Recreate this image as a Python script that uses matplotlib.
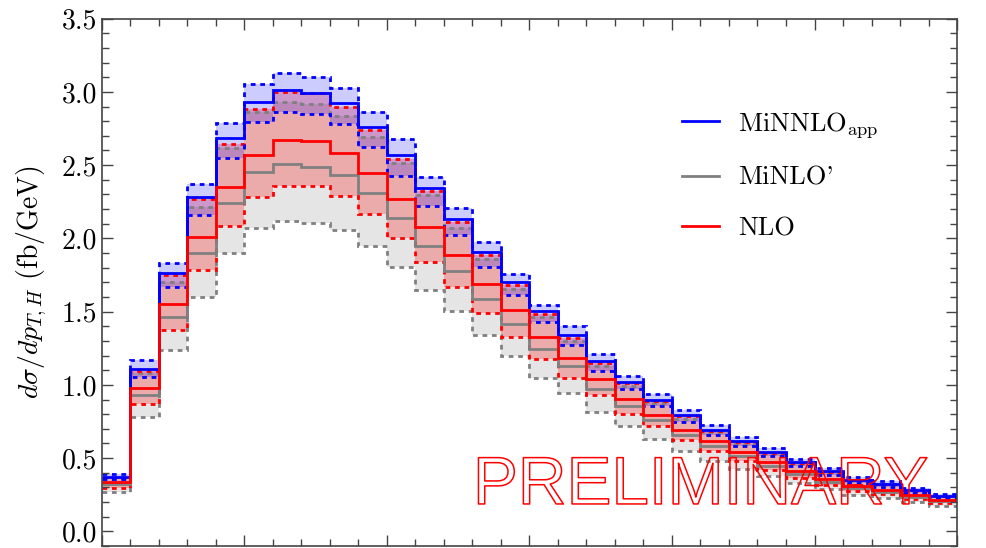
import numpy as np
import matplotlib
matplotlib.use("Agg")
import matplotlib.pyplot as plt
from matplotlib.ticker import MultipleLocator
import matplotlib.patheffects as pe

plt.rcParams['font.family'] = 'cmr10'
plt.rcParams['mathtext.fontset'] = 'cm'
plt.rcParams['axes.formatter.use_mathtext'] = True

# p_T,H bins (GeV)
edges = np.arange(0, 310, 10)

# MiNNLO_app: central value and scale band
minnlo_c = [0.371, 1.110, 1.763, 2.280, 2.683, 2.933, 3.013, 2.995, 2.922, 2.763,
            2.570, 2.342, 2.131, 1.906, 1.701, 1.501, 1.342, 1.160, 1.023, 0.898,
            0.791, 0.694, 0.614, 0.542, 0.473, 0.409, 0.353, 0.323, 0.280, 0.239]
minnlo_up = [0.392, 1.171, 1.830, 2.370, 2.786, 3.052, 3.131, 3.104, 3.029, 2.865,
             2.677, 2.417, 2.206, 1.978, 1.758, 1.546, 1.399, 1.210, 1.062, 0.939,
             0.830, 0.728, 0.644, 0.569, 0.496, 0.432, 0.368, 0.341, 0.296, 0.255]
minnlo_dn = [0.355, 1.057, 1.670, 2.160, 2.547, 2.793, 2.861, 2.849, 2.781, 2.626,
             2.426, 2.222, 2.024, 1.808, 1.615, 1.432, 1.274, 1.098, 0.971, 0.853,
             0.750, 0.660, 0.580, 0.512, 0.443, 0.385, 0.330, 0.303, 0.262, 0.225]

# MiNLO'
minlo_c = [0.325, 0.932, 1.460, 1.900, 2.240, 2.452, 2.508, 2.490, 2.433, 2.312,
           2.142, 1.951, 1.774, 1.585, 1.415, 1.244, 1.126, 0.971, 0.857, 0.757,
           0.660, 0.585, 0.512, 0.448, 0.394, 0.339, 0.293, 0.271, 0.237, 0.205]
minlo_up = [0.360, 1.080, 1.705, 2.217, 2.615, 2.861, 2.933, 2.915, 2.838, 2.690,
            2.517, 2.297, 2.074, 1.858, 1.653, 1.462, 1.300, 1.130, 0.990, 0.875,
            0.770, 0.675, 0.597, 0.527, 0.460, 0.398, 0.343, 0.315, 0.272, 0.233]
minlo_dn = [0.269, 0.784, 1.240, 1.600, 1.899, 2.074, 2.121, 2.104, 2.058, 1.949,
            1.808, 1.649, 1.505, 1.342, 1.199, 1.050, 0.944, 0.814, 0.716, 0.630,
            0.550, 0.482, 0.428, 0.380, 0.330, 0.289, 0.250, 0.228, 0.200, 0.171]

# NLO
nlo_c = [0.334, 0.978, 1.553, 2.012, 2.353, 2.570, 2.672, 2.667, 2.585, 2.445,
         2.267, 2.076, 1.887, 1.688, 1.508, 1.330, 1.183, 1.040, 0.903, 0.796,
         0.694, 0.619, 0.539, 0.473, 0.414, 0.357, 0.307, 0.284, 0.246, 0.216]
nlo_up = [0.365, 1.098, 1.750, 2.270, 2.642, 2.883, 2.997, 2.990, 2.895, 2.740,
          2.540, 2.326, 2.110, 1.887, 1.683, 1.485, 1.319, 1.150, 1.012, 0.890,
          0.785, 0.688, 0.608, 0.537, 0.468, 0.405, 0.350, 0.320, 0.277, 0.237]
nlo_dn = [0.296, 0.869, 1.376, 1.785, 2.087, 2.281, 2.360, 2.360, 2.290, 2.165,
          2.005, 1.838, 1.667, 1.490, 1.330, 1.176, 1.046, 0.928, 0.803, 0.716,
          0.621, 0.546, 0.478, 0.421, 0.364, 0.318, 0.278, 0.255, 0.221, 0.194]

fig = plt.figure(figsize=(9.86, 5.48), dpi=100)
ax = fig.add_axes([0.1034, 0.0036, 0.8672, 0.9624])

dash = (0, (1.7, 1.7))
lw = 2.0

# bands
ax.stairs(minlo_up, edges, baseline=minlo_dn, fill=True, color='gray', alpha=0.2, lw=0)
ax.stairs(nlo_up, edges, baseline=nlo_dn, fill=True, color='red', alpha=0.25, lw=0)
ax.stairs(minnlo_up, edges, baseline=minnlo_dn, fill=True, color='blue', alpha=0.2, lw=0)

# band edges
for up, dn, col in [(minlo_up, minlo_dn, 'gray'), (nlo_up, nlo_dn, 'red'),
                    (minnlo_up, minnlo_dn, 'blue')]:
    ax.stairs(up, edges, baseline=None, color=col, lw=lw, linestyle=dash)
    ax.stairs(dn, edges, baseline=None, color=col, lw=lw, linestyle=dash)

# central values
ax.stairs(minlo_c, edges, baseline=None, color='gray', lw=lw)
ax.stairs(minnlo_c, edges, baseline=None, color='blue', lw=lw)
ax.stairs(nlo_c, edges, baseline=None, color='red', lw=lw)

ax.set_xlim(0, 300)
ax.set_ylim(-0.1, 3.5)
ax.xaxis.set_major_locator(MultipleLocator(50))
ax.xaxis.set_minor_locator(MultipleLocator(10))
ax.yaxis.set_major_locator(MultipleLocator(0.5))
ax.yaxis.set_minor_locator(MultipleLocator(0.1))
ax.yaxis.set_major_formatter(matplotlib.ticker.FormatStrFormatter('%.1f'))
ax.tick_params(which='both', direction='in', top=True, right=True,
               labelbottom=False, labelsize=20, color='#444444')
ax.tick_params(which='major', length=8, width=1)
ax.tick_params(which='minor', length=5, width=1)
for s in ax.spines.values():
    s.set_color('#444444')
    s.set_linewidth(1.2)

ax.set_ylabel(r'$d\sigma/dp_{T,H}$ (fb/GeV)', fontsize=20)
ax.yaxis.set_label_coords(-0.062, 0.5)

handles = [plt.Line2D([], [], color='blue', lw=2),
           plt.Line2D([], [], color='gray', lw=2),
           plt.Line2D([], [], color='red', lw=2)]
ax.legend(handles, [r'MiNNLO$_{\rm app}$', "MiNLO'", 'NLO'],
          loc='upper left', bbox_to_anchor=(0.651, 0.872), frameon=False,
          fontsize=19, handlelength=1.4, labelspacing=1.0, handletextpad=0.7)

# outlined watermark
ax.text(0.70, 0.112, 'PRELIMINARY', transform=ax.transAxes, ha='center', va='center',
        fontsize=48.5, family='Liberation Sans', color='none', zorder=10,
        path_effects=[pe.Stroke(linewidth=1.1, foreground='red')])

fig.savefig('out.png', dpi=100)
